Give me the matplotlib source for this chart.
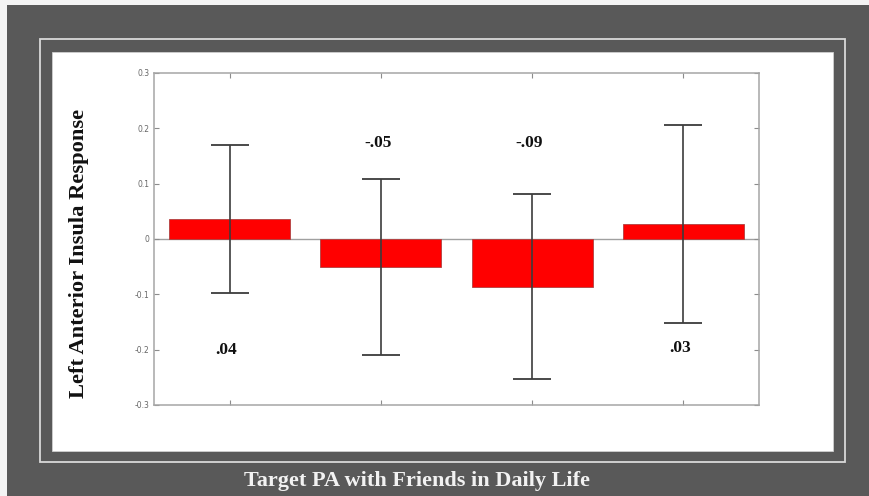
import matplotlib
matplotlib.use("Agg")
import matplotlib.pyplot as plt
from matplotlib.patches import Rectangle

# Mean left anterior insula response per condition, with error half-widths
conditions = ["1", "2", "3", "4"]
means = [0.036, -0.051, -0.086, 0.027]
errors = [0.134, 0.159, 0.167, 0.179]
label_y = [-0.20, 0.173, 0.173, -0.197]
ytick_vals = [0.3, 0.2, 0.1, 0.0, -0.1, -0.2, -0.3]
ytick_text = ["0.3", "0.2", "0.1", "0", "-0.1", "-0.2", "-0.3"]

ylabel = "Left Anterior Insula Response"
xlabel = "Target PA with Friends in Daily Life"

W, H = 869, 496
fig = plt.figure(figsize=(W / 100, H / 100), dpi=100)
fig.patch.set_facecolor("#f4f4f4")


def fx(px):
    return px / W


def fy(py):
    return 1 - py / H


# dark backdrop
fig.patches.append(Rectangle((fx(7), 0), 1 - fx(7), fy(5), transform=fig.transFigure,
                             facecolor="#595959", edgecolor="none", zorder=0))
# thin light frame line
fig.patches.append(Rectangle((fx(40), fy(462)), fx(845) - fx(40), fy(39) - fy(462),
                             transform=fig.transFigure, facecolor="none",
                             edgecolor="#d9d9d9", linewidth=1.3, zorder=1))
# white panel
fig.patches.append(Rectangle((fx(52), fy(451)), fx(833) - fx(52), fy(52) - fy(451),
                             transform=fig.transFigure, facecolor="white",
                             edgecolor="#cfcfcf", linewidth=0.6, zorder=1))

ax = fig.add_axes([fx(154), fy(405), fx(759) - fx(154), fy(73) - fy(405)])
ax.set_zorder(5)
ax.set_facecolor("white")

x = list(range(1, len(conditions) + 1))
ax.axhline(0, color="#a0a0a0", linewidth=1.0, zorder=1)
ax.bar(x, means, width=0.8, color="#ff0000", edgecolor="#b04040",
       linewidth=0.6, zorder=2)
ax.errorbar(x, means, yerr=errors, fmt="none", ecolor="#3c3c3c",
            elinewidth=1.2, capsize=13.5, capthick=1.3, zorder=3)

for xi, m, ly in zip(x, means, label_y):
    txt = f"{m:.2f}".replace("0.", ".", 1)
    ax.text(xi - 0.02, ly, txt, ha="center", va="center", fontsize=12.5,
            fontweight="bold", family="Liberation Serif", color="#111111")

ax.set_xlim(0.5, 4.5)
ax.set_ylim(-0.3, 0.3)
ax.set_xticks(x)
ax.set_xticklabels([])
ax.set_yticks(ytick_vals)
ax.set_yticklabels(ytick_text)
ax.tick_params(axis="both", direction="in", length=3.5, width=0.8,
               color="#8c8c8c", top=True, right=True,
               labelsize=5.5, labelcolor="#666666", pad=3)
for s in ax.spines.values():
    s.set_color("#a6a6a6")
    s.set_linewidth(1.1)

fig.text(fx(79), fy(253), ylabel, rotation=90, ha="center", va="center",
         fontsize=16.2, fontweight="bold", family="Liberation Serif", color="#111111")
fig.text(fx(417), fy(481), xlabel, ha="center", va="center",
         fontsize=16, fontweight="bold", family="Liberation Serif", color="#f2f2f2")

fig.savefig("out.png", dpi=100, facecolor=fig.get_facecolor())
